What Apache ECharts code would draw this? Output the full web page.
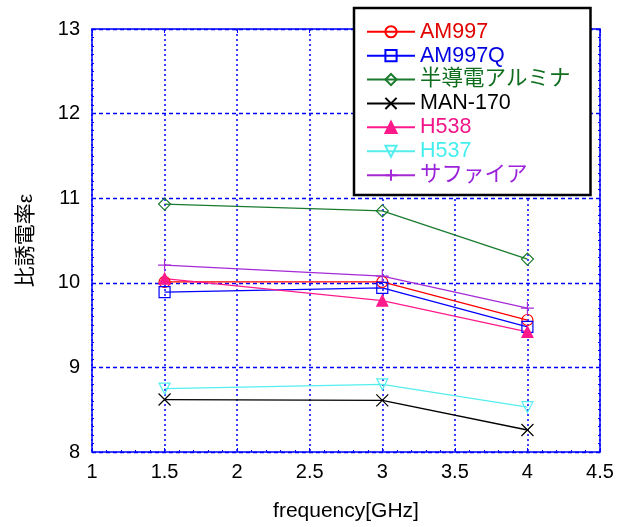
<!DOCTYPE html>
<html>
<head>
<meta charset="utf-8">
<script src="https://cdn.jsdelivr.net/npm/echarts@6/dist/echarts.min.js"></script>
<style>
  html, body { margin: 0; padding: 0; background: #fff; }
  #main { width: 623px; height: 527px; }
</style>
</head>
<body>
<div id="main"></div>
<script>
// frequency [GHz]
var freqs = [1.5, 3, 4];
// 比誘電率 readings
var am997 = [10.01, 10.01, 9.56];
var am997q = [9.89, 9.94, 9.48];
var alumina = [10.93, 10.85, 10.28];
var man170 = [8.62, 8.61, 8.26];
var h538 = [10.05, 9.79, 9.42];
var h537 = [8.75, 8.80, 8.53];
var sapphire = [10.21, 10.08, 9.70];

var names = ["AM997", "AM997Q", "半導電アルミナ", "MAN-170", "H538", "H537", "サファイア"];
var colors = ["#ff0000", "#0000ff", "#1a7a2e", "#000000", "#ff1a8c", "#55eeee", "#a52ad6"];
var textColors = ["#e00000", "#0000e0", "#0f6e1e", "#000000", "#f0168a", "#44eeee", "#9a22d8"];
var values = [am997, am997q, alumina, man170, h538, h537, sapphire];

var crossPath = "path://M0,0L10,10M10,0L0,10";
var plusPath = "path://M5,0L5,10M0,5L10,5";
var symbols = ["circle", "rect", "diamond", crossPath, "triangle", "triangle", plusPath];
var sizes = [11, 11, 12, 12, 11, 11, 13];

var font = "'Liberation Sans', 'Noto Sans CJK JP', sans-serif";

function pairs(ys) {
  var out = [];
  for (var i = 0; i < freqs.length; i++) out.push([freqs[i], ys[i]]);
  return out;
}

var series = names.map(function (n, i) {
  var filled = (i === 4);
  return {
    name: n,
    type: "line",
    data: pairs(values[i]),
    symbol: symbols[i],
    symbolSize: sizes[i],
    symbolRotate: i === 5 ? 180 : 0,
    showAllSymbol: true,
    lineStyle: { color: colors[i], width: 1.3 },
    itemStyle: {
      color: filled ? colors[i] : "rgba(255,255,255,0)",
      borderColor: colors[i],
      borderWidth: 1.2
    },
    emphasis: { disabled: true },
    z: 3
  };
});

var chart = echarts.init(document.getElementById("main"));
var blue = "#0000ff";

var option = {
  animation: false,
  backgroundColor: "#fff",
  textStyle: { fontFamily: font },
  grid: { left: 92, right: 23, top: 29, bottom: 75 },
  legend: {
    orient: "vertical",
    left: 354,
    top: 8,
    padding: [13, 20, 9, 12],
    itemWidth: 48,
    itemHeight: 14,
    itemGap: 2.4,
    backgroundColor: "#fff",
    borderColor: "#000",
    borderWidth: 2.5,
    z: 10,
    textStyle: { fontSize: 21.5, lineHeight: 21, fontFamily: font },
    data: names.map(function (n, i) {
      return { name: n, textStyle: { color: textColors[i] } };
    })
  },
  xAxis: [
    {
      type: "value",
      min: 1,
      max: 4.5,
      interval: 0.5,
      name: "frequency[GHz]",
      nameLocation: "middle",
      nameGap: 49,
      nameTextStyle: { fontSize: 21, color: "#000", fontFamily: font },
      axisLine: { lineStyle: { color: blue, width: 1.5 } },
      axisTick: { inside: true, length: 4, lineStyle: { color: blue } },
      minorTick: { show: true, splitNumber: 5, length: 2, lineStyle: { color: blue } },
      axisLabel: { fontSize: 20, color: "#000", margin: 10, fontFamily: font },
      splitLine: { show: true, lineStyle: { color: blue, type: [2, 3], width: 1.5 } }
    },
    {
      type: "value",
      position: "top",
      min: 1,
      max: 4.5,
      interval: 0.5,
      axisLine: { lineStyle: { color: blue, width: 1.5 } },
      axisTick: { inside: true, length: 4, lineStyle: { color: blue } },
      axisLabel: { show: false },
      splitLine: { show: false }
    }
  ],
  yAxis: [
    {
      type: "value",
      min: 8,
      max: 13,
      interval: 1,
      name: "比誘電率ε",
      nameLocation: "middle",
      nameGap: 55,
      nameTextStyle: { fontSize: 21, color: "#000", fontFamily: font },
      axisLine: { show: true, lineStyle: { color: blue, width: 1.5 } },
      axisTick: { show: true, inside: true, length: 4, lineStyle: { color: blue } },
      minorTick: { show: true, splitNumber: 10, length: 2, lineStyle: { color: blue } },
      axisLabel: { fontSize: 20, color: "#000", margin: 12, fontFamily: font },
      splitLine: { show: true, lineStyle: { color: blue, type: [4, 3], width: 1.3 } }
    },
    {
      type: "value",
      position: "right",
      min: 8,
      max: 13,
      interval: 1,
      axisLine: { show: true, lineStyle: { color: blue, width: 1.5 } },
      axisTick: { show: true, inside: true, length: 4, lineStyle: { color: blue } },
      minorTick: { show: true, splitNumber: 10, length: 2, lineStyle: { color: blue } },
      axisLabel: { show: false },
      splitLine: { show: false }
    }
  ],
  series: series
};

chart.setOption(option);
</script>
</body>
</html>
